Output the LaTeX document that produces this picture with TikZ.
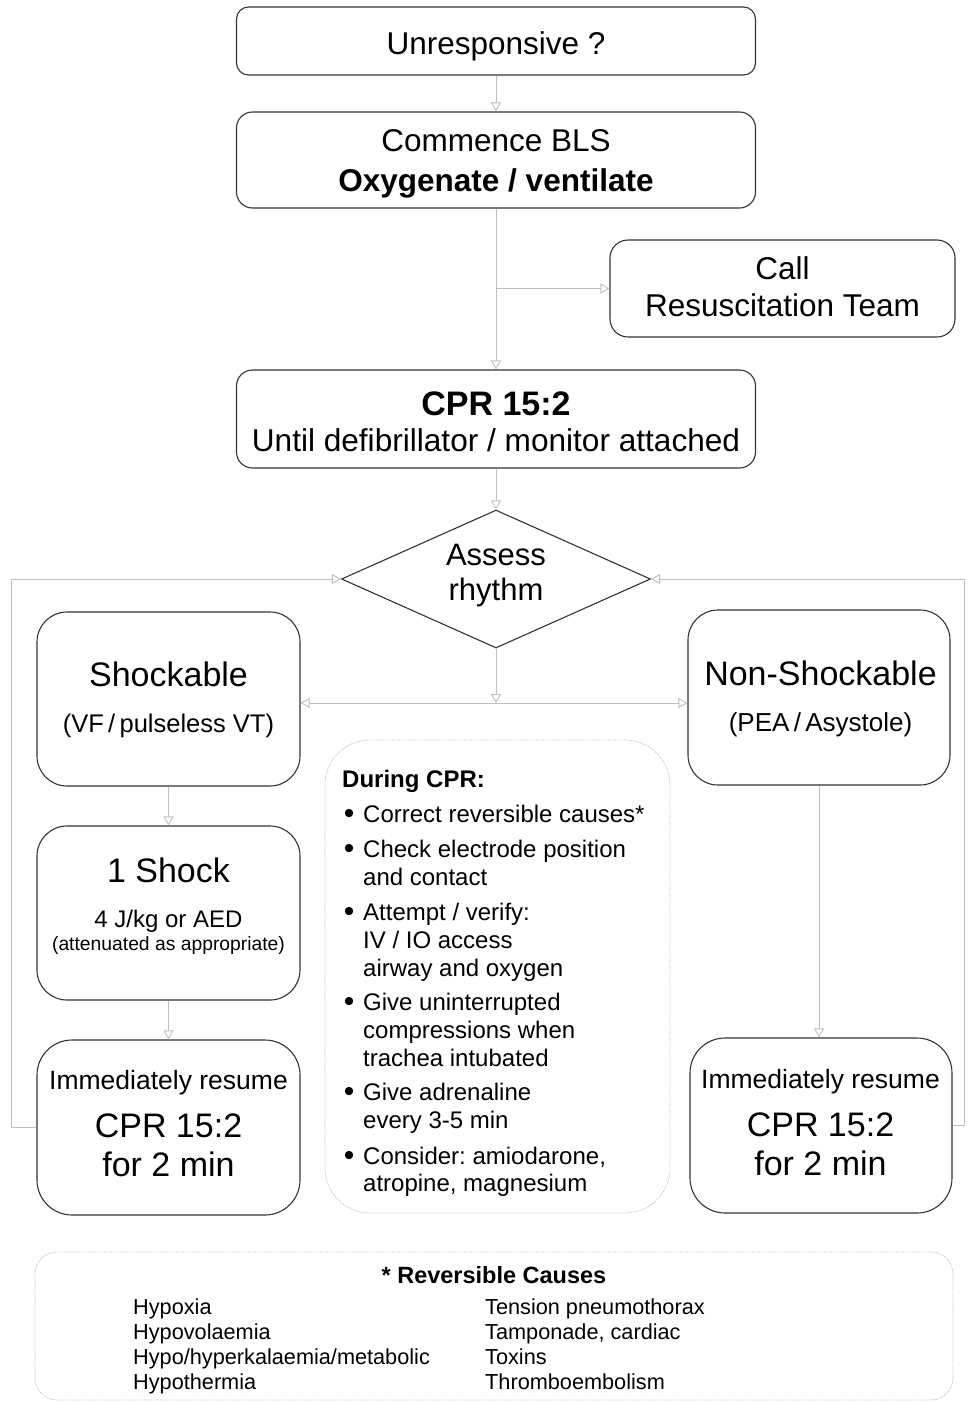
\documentclass[tikz,border=0pt]{standalone}
\usepackage{fontspec}
\setmainfont{Liberation Sans}
\usetikzlibrary{shapes.geometric,arrows.meta}
\newcommand\fsz[1]{\fontsize{#1}{#1}\selectfont}
\frenchspacing
\begin{document}
\begin{tikzpicture}[x=1pt,y=-1pt,
  box/.style={draw=black!80,line width=1.1pt,rounded corners=#1,inner sep=0pt},
  box/.default=15pt,
  faintbox/.style={draw=gray!55,line width=0.8pt,densely dotted,rounded corners=#1,inner sep=0pt},
  conn/.style={draw=gray!50,line width=0.9pt,-{Triangle[open,length=9pt,width=10pt]}},
  txt/.style={inner sep=0pt,anchor=base},
  ltxt/.style={inner sep=0pt,anchor=base west}]
\useasboundingbox (0,0) rectangle (967,1403);

% boxes
\node[box=12pt,minimum width=519pt,minimum height=68pt] (unr) at (496,41) {};
\node[box=16pt,minimum width=519pt,minimum height=96pt] (bls) at (496,160) {};
\node[box=18pt,minimum width=345pt,minimum height=97pt] (call) at (782.5,288.5) {};
\node[box=16pt,minimum width=519pt,minimum height=98pt] (cpr) at (496,419) {};
\node[draw=black!80,line width=1.1pt,diamond,inner sep=0pt,minimum width=309pt,minimum height=138pt] (assess) at (496,579) {};
\node[box=30pt,minimum width=263pt,minimum height=174pt] (shock) at (168.5,699) {};
\node[box=30pt,minimum width=262pt,minimum height=175pt] (nonshock) at (819,697.5) {};
\node[box=30pt,minimum width=263pt,minimum height=174pt] (one) at (168.5,913) {};
\node[box=35pt,minimum width=263pt,minimum height=175pt] (cprL) at (168.5,1127.5) {};
\node[box=35pt,minimum width=262pt,minimum height=175pt] (cprR) at (821,1125.5) {};
\node[faintbox=45pt,minimum width=345pt,minimum height=473pt] (during) at (497.5,976.5) {};
\node[faintbox=22pt,minimum width=918pt,minimum height=148pt] (rev) at (494,1326) {};

% connectors
\draw[conn] (unr.south) -- (bls.north);
\draw[conn] (bls.south) -- (cpr.north);
\coordinate (br) at (bls.south |- call.west);
\draw[conn] (br) -- (call.west);
\draw[conn] (cpr.south) -- (assess.north);
\coordinate (hub) at (496,703);
\draw[conn] (assess.south) -- (hub);
\draw[conn] (hub) -- (shock.east |- hub);
\draw[conn] (hub) -- (nonshock.west |- hub);
\draw[conn] (shock.south) -- (one.north);
\draw[conn] (one.south) -- (cprL.north);
\draw[conn] (nonshock.south) -- (nonshock.south |- cprR.north);
\draw[conn] (cprL.west) -- ++(-25,0) |- (assess.west);
\draw[conn] (cprR.east) -- ++(12,0) |- (assess.east);

% texts
\node[txt,font=\fsz{31.5}] (t1) at (496,54) {Unresponsive ?};
\node[txt,font=\fsz{31.5}] (t2) at (496,151) {Commence BLS};
\node[txt,font=\bfseries\fsz{31.5}] (t3) at (496,191) {Oxygenate / ventilate};
\node[txt,font=\fsz{31.5}] (t4) at (782.5,279) {Call};
\node[txt,font=\fsz{31.5}] (t5) at (782.5,316) {Resuscitation Team};
\node[txt,font=\bfseries\fsz{34}] (t6) at (496,415) {CPR 15:2};
\node[txt,font=\fsz{31.6}] (t7) at (496,451) {Until defibrillator / monitor attached};
\node[txt,font=\fsz{31}] (t8) at (496,565) {Assess};
\node[txt,font=\fsz{31}] (t9) at (496,600) {rhythm};
\node[txt,font=\fsz{34}] (t10) at (168.5,686) {Shockable};
\node[txt,font=\fsz{25.5}] (t11) at (168.5,732) {(VF\,/\,pulseless VT)};
\node[txt,font=\fsz{34}] (t12) at (820.5,685) {Non-Shockable};
\node[txt,font=\fsz{26}] (t13) at (820.5,731) {(PEA\,/\,Asystole)};
\node[txt,font=\fsz{34}] (t14) at (168.5,882) {1 Shock};
\node[txt,font=\fsz{24}] (t15) at (168.5,927) {4 J/kg or AED};
\node[txt,font=\fsz{19.3}] (t16) at (168.5,950) {(attenuated as appropriate)};
\node[txt,font=\fsz{26.5}] (t17) at (168.5,1089) {Immediately resume};
\node[txt,font=\fsz{34}] (t18) at (168.5,1137) {CPR 15:2};
\node[txt,font=\fsz{34}] (t19) at (168.5,1176) {for 2 min};
\node[txt,font=\fsz{26.5}] (t20) at (820.5,1088) {Immediately resume};
\node[txt,font=\fsz{34}] (t21) at (820.5,1136) {CPR 15:2};
\node[txt,font=\fsz{34}] (t22) at (820.5,1175) {for 2 min};

% During CPR
\node[ltxt,font=\bfseries\fsz{24}] (d0) at (342,787) {During CPR:};
\foreach \n/\yy/\tx in {
  d1/822/{Correct reversible causes*},
  d2/857/{Check electrode position},
  d3/885/{and contact},
  d4/920/{Attempt / verify:},
  d5/948/{IV / IO access},
  d6/976/{airway and oxygen},
  d7/1010/{Give uninterrupted},
  d8/1038/{compressions when},
  d9/1066/{trachea intubated},
  d10/1100/{Give adrenaline},
  d11/1128/{every 3-5 min},
  d12/1164/{Consider: amiodarone,},
  d13/1191/{atropine, magnesium}}
  {\node[ltxt,font=\fsz{24}] (\n) at (363,\yy) {\tx};}
\foreach \n/\yy in {b1/822,b2/857,b3/920,b4/1010,b5/1100,b6/1164}
  {\node[txt,font=\fsz{30}] (\n) at (349,\yy+1) {•};}

% Reversible causes
\node[txt,font=\bfseries\fsz{23.5}] (r0) at (494,1283) {* Reversible Causes};
\foreach \n/\yy/\tx in {
  ra/1314/{Hypoxia},
  rb/1339/{Hypovolaemia},
  rc/1364/{Hypo/hyperkalaemia/metabolic},
  rd/1389/{Hypothermia}}
  {\node[ltxt,font=\fsz{21.7}] (\n) at (133,\yy) {\tx};}
\foreach \n/\yy/\tx in {
  re/1314/{Tension pneumothorax},
  rf/1339/{Tamponade, cardiac},
  rg/1364/{Toxins},
  rh/1389/{Thromboembolism}}
  {\node[ltxt,font=\fsz{21.7}] (\n) at (485,\yy) {\tx};}
\end{tikzpicture}
\end{document}
